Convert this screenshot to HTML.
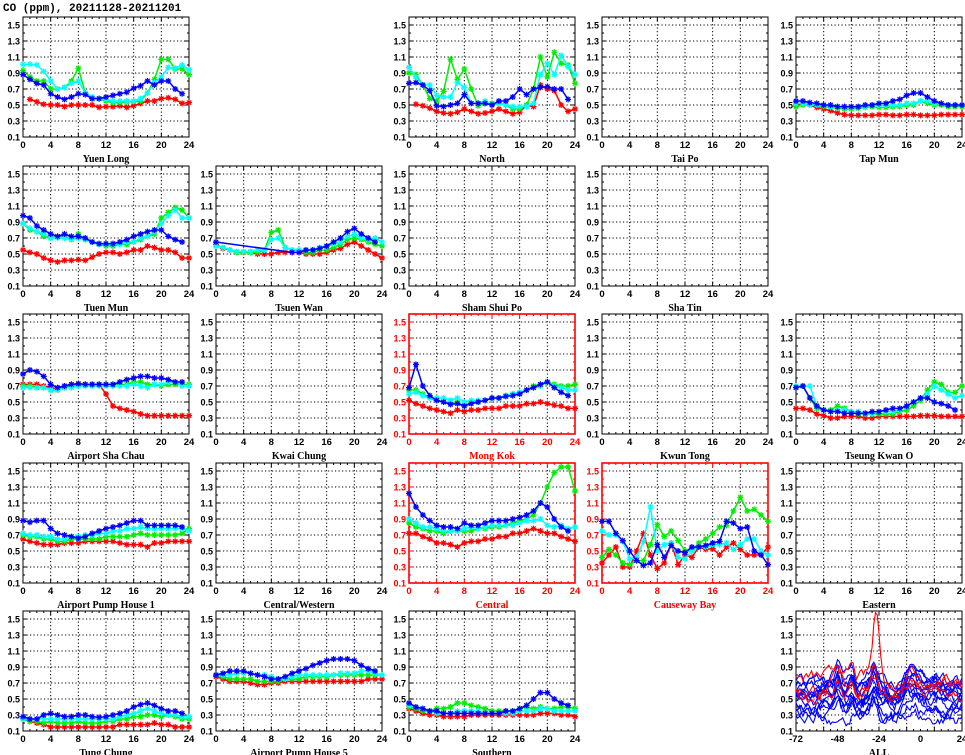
<!DOCTYPE html>
<html><head><meta charset="utf-8"><style>
html,body{margin:0;padding:0;background:#fff;}
svg{display:block;font-family:"Liberation Sans",sans-serif;}
</style></head><body>
<svg id="s" width="965" height="755" xmlns="http://www.w3.org/2000/svg">
<text x="3" y="11" font-size="11" font-family="Liberation Mono, monospace" font-weight="bold">CO (ppm), 20211128-20211201</text>
</svg>
<script>
const S=document.getElementById('s');
const NS='http://www.w3.org/2000/svg';
function el(t,a,txt){const e=document.createElementNS(NS,t);for(const k in a)e.setAttribute(k,a[k]);if(txt!==undefined)e.textContent=txt;S.appendChild(e);return e;}
const colL=[23,216,409,602,796], rowT=[17,166,314,463,611], W=166,H=120;
const C={r:'#ff0000',g:'#00ee00',c:'#00ffff',b:'#0000ff'};
const P=[
{n:'Yuen Long',c:0,r:0,d:{
r:[null,.57,.54,.51,.50,.50,.48,.50,.50,.50,.50,.47,.48,.48,.49,.47,.49,.52,.55,.55,.58,.59,.57,.52,.53],
g:[.93,.85,.80,.80,.70,.70,.72,.80,.96,.65,.58,.58,.55,.53,.53,.54,.54,.55,.65,.82,1.07,1.07,.95,.95,.88],
c:[1.01,1.01,1.0,.92,.80,.70,.72,.77,.80,.65,.60,.58,.57,.55,.55,.55,.55,.58,.65,.78,.85,.97,.96,1.0,.94],
b:[.88,.82,.77,.75,.64,.60,.57,.60,.64,.63,.58,.58,.60,.62,.64,.66,.71,.74,.80,.75,.80,.80,.70,.64,null]}},
{n:'North',c:2,r:0,d:{
r:[null,.51,.49,.46,.42,.40,.39,.41,.45,.42,.39,.40,.42,.45,.42,.39,.41,.50,.48,.75,.70,.68,.50,.42,.45],
g:[.90,.88,.75,.58,.55,.67,1.07,.82,.95,.70,.49,.52,.52,.53,.50,.45,.45,.50,.70,1.10,.85,1.16,1.02,1.0,.77],
c:[.97,.85,.75,.75,.62,.60,.60,.78,.72,.52,.52,.55,.50,.52,.50,.48,.48,.48,.52,.88,1.02,.88,1.12,.98,.88],
b:[.77,.78,.75,.68,.49,.48,.50,.52,.63,.52,.52,.52,.50,.55,.55,.60,.70,.63,.70,.72,.73,.70,.70,.57,null]}},
{n:'Tai Po',c:3,r:0,d:{}},
{n:'Tap Mun',c:4,r:0,d:{
r:[.50,.52,.50,.47,.45,.43,.40,.38,.37,.37,.37,.37,.38,.38,.37,.37,.38,.38,.37,.37,.37,.38,.38,.38,.38],
g:[.48,.50,.50,.50,.48,.47,.46,.45,.45,.46,.47,.48,.47,.47,.48,.48,.50,.50,.55,.52,.50,.50,.48,.48,.48],
c:[.52,.52,.50,.50,.50,.48,.48,.47,.47,.48,.48,.50,.50,.50,.50,.50,.52,.52,.55,.55,.52,.52,.50,.50,.50],
b:[.55,.55,.53,.52,.50,.50,.48,.48,.48,.48,.50,.50,.52,.52,.55,.57,.62,.65,.65,.60,.55,.52,.50,.50,.50]}},
{n:'Tuen Mun',c:0,r:1,d:{
r:[.55,.52,.50,.45,.42,.40,.42,.42,.43,.42,.46,.50,.52,.52,.50,.52,.55,.55,.60,.58,.55,.55,.52,.45,.45],
g:[.88,.80,.78,.72,.70,.72,.72,.68,.75,.68,.65,.62,.60,.60,.62,.62,.65,.68,.72,.75,.95,1.02,1.08,1.05,.95],
c:[.88,.82,.78,.75,.70,.70,.70,.68,.70,.68,.65,.62,.62,.62,.62,.65,.65,.70,.72,.78,.88,.98,1.05,.95,.95],
b:[.98,.95,.85,.80,.75,.72,.75,.72,.72,.70,.65,.63,.63,.63,.65,.68,.72,.75,.78,.80,.80,.72,.68,.65,null]}},
{n:'Tsuen Wan',c:1,r:1,d:{
r:[.62,.57,.55,.52,.52,.52,.50,.50,.50,.52,.52,.52,.52,.50,.50,.50,.52,.55,.57,.62,.65,.60,.55,.50,.45],
g:[.60,.58,.55,.52,.52,.52,.52,.55,.77,.80,.58,.55,.55,.52,.52,.55,.55,.58,.62,.68,.70,.68,.65,.62,.60],
c:[.60,.58,.55,.53,.53,.53,.55,.55,.68,.70,.58,.55,.55,.55,.55,.58,.60,.62,.65,.72,.75,.70,.68,.70,.65],
b:[.65,null,null,null,null,null,null,null,null,null,null,.52,.52,.55,.55,.57,.60,.65,.70,.78,.82,.75,.70,.65,null]}},
{n:'Sham Shui Po',c:2,r:1,d:{}},
{n:'Sha Tin',c:3,r:1,d:{}},
{n:'Airport Sha Chau',c:0,r:2,d:{
r:[.72,.72,.72,.70,.68,.65,.70,.72,.72,.72,.72,.72,.60,.45,.42,.40,.38,.35,.33,.33,.33,.33,.33,.33,.33],
g:[.70,.70,.68,.68,.65,.65,.68,.70,.70,.72,.72,.72,.72,.72,.72,.72,.75,.75,.72,.72,.70,.72,.72,.72,.72],
c:[.68,.68,.68,.68,.65,.65,.68,.68,.70,.70,.70,.70,.70,.70,.70,.70,.72,.70,.68,.72,.72,.75,.75,.70,.70],
b:[.85,.90,.88,.82,.72,.68,.70,.72,.73,.72,.72,.72,.72,.72,.75,.78,.80,.82,.82,.80,.80,.78,.75,.75,null]}},
{n:'Kwai Chung',c:1,r:2,d:{}},
{n:'Mong Kok',c:2,r:2,red:1,d:{
r:[.52,.48,.45,.42,.40,.38,.36,.40,.38,.40,.40,.42,.42,.42,.45,.45,.45,.48,.48,.50,.48,.46,.45,.42,.42],
g:[.65,.65,.60,.55,.52,.50,.48,.50,.45,.50,.50,.52,.55,.55,.58,.60,.62,.65,.70,.72,.75,.72,.70,.70,.72],
c:[.60,.62,.58,.55,.55,.55,.52,.55,.50,.52,.52,.52,.55,.55,.58,.60,.62,.65,.68,.70,.75,.70,.68,.65,.65],
b:[.68,.97,.70,.58,.52,.50,.47,.48,.45,.48,.50,.52,.55,.55,.57,.58,.60,.65,.68,.72,.75,.68,.62,.58,null]}},
{n:'Kwun Tong',c:3,r:2,d:{}},
{n:'Tseung Kwan O',c:4,r:2,d:{
r:[.42,.42,.40,.35,.33,.30,.30,.32,.32,.32,.30,.30,.32,.32,.32,.32,.32,.32,.33,.33,.33,.32,.32,.32,.32],
g:[.68,.70,.55,.42,.40,.40,.45,.42,.38,.35,.35,.35,.35,.35,.35,.38,.40,.45,.52,.65,.75,.72,.62,.62,.70],
c:[.70,.70,.70,.45,.40,.38,.40,.40,.38,.38,.35,.35,.38,.38,.38,.40,.45,.50,.55,.60,.70,.65,.60,.55,.58],
b:[.68,.70,.55,.45,.40,.38,.38,.36,.36,.36,.36,.38,.38,.40,.42,.42,.45,.50,.55,.55,.50,.48,.45,.40,null]}},
{n:'Airport Pump House 1',c:0,r:3,d:{
r:[.65,.62,.60,.58,.58,.58,.60,.60,.60,.62,.62,.62,.62,.62,.60,.58,.58,.58,.55,.60,.60,.62,.62,.62,.62],
g:[.70,.68,.68,.65,.65,.62,.62,.65,.65,.65,.65,.65,.68,.68,.68,.68,.70,.72,.70,.70,.70,.70,.70,.72,.78],
c:[.72,.70,.70,.68,.68,.65,.65,.68,.68,.70,.70,.72,.72,.75,.75,.78,.78,.80,.78,.78,.78,.78,.78,.78,.75],
b:[.88,.86,.88,.88,.78,.72,.70,.68,.66,.68,.72,.75,.78,.80,.82,.85,.88,.88,.82,.82,.82,.82,.82,.80,null]}},
{n:'Central/Western',c:1,r:3,d:{}},
{n:'Central',c:2,r:3,red:1,d:{
r:[.72,.72,.68,.65,.60,.60,.58,.55,.60,.62,.62,.65,.65,.68,.68,.72,.72,.75,.78,.75,.72,.72,.68,.65,.62],
g:[.85,.80,.78,.75,.75,.72,.75,.75,.75,.75,.78,.78,.80,.80,.82,.85,.88,.90,.95,1.10,1.30,1.48,1.55,1.55,1.25],
c:[.90,.85,.80,.80,.78,.75,.75,.75,.78,.80,.78,.80,.82,.82,.82,.82,.85,.88,.88,.90,.82,.80,.82,.78,.80],
b:[1.22,1.05,.95,.88,.82,.80,.80,.78,.85,.82,.82,.85,.88,.88,.88,.90,.92,.95,1.0,1.10,1.05,.90,.80,.75,null]}},
{n:'Causeway Bay',c:3,r:3,red:1,d:{
r:[.35,.45,.55,.30,.30,.50,.72,.45,.28,.35,.60,.33,.45,.42,.55,.52,.53,.45,.55,.60,.52,.45,.45,.45,.55],
g:[.42,.52,.45,.35,.33,.38,.38,.58,.83,.68,.75,.63,.50,.50,.60,.65,.72,.80,.82,1.0,1.17,1.0,1.02,.95,.87],
c:[.75,.70,.70,.62,.40,.42,.62,1.05,.50,.58,.60,.42,.40,.50,.55,.55,.58,.58,.60,.52,.58,.65,.65,.50,.45],
b:[.87,.87,.72,.63,.50,.38,.32,.35,.58,.42,.57,.50,.48,.55,.55,.57,.60,.62,.87,.85,.78,.80,.50,.45,.33]}},
{n:'Eastern',c:4,r:3,d:{}},
{n:'Tung Chung',c:0,r:4,d:{
r:[.25,.22,.20,.18,.15,.15,.15,.15,.15,.15,.15,.15,.15,.15,.18,.18,.18,.18,.18,.20,.18,.18,.15,.15,.15],
g:[.25,.22,.22,.20,.22,.20,.20,.20,.22,.20,.20,.20,.22,.22,.25,.25,.28,.28,.30,.30,.28,.30,.28,.25,.25],
c:[.25,.25,.25,.25,.25,.25,.25,.25,.25,.25,.25,.25,.25,.25,.28,.30,.32,.35,.38,.35,.32,.30,.30,.28,.28],
b:[.28,.25,.25,.30,.32,.30,.28,.28,.30,.30,.28,.27,.28,.30,.32,.35,.40,.43,.45,.42,.38,.35,.35,.32,null]}},
{n:'Airport Pump House 5',c:1,r:4,d:{
r:[.78,.75,.72,.72,.72,.70,.68,.68,.70,.70,.72,.72,.72,.72,.72,.72,.72,.72,.72,.72,.72,.72,.75,.75,.75],
g:[.80,.78,.75,.75,.75,.75,.72,.72,.72,.72,.75,.75,.75,.78,.78,.78,.78,.80,.80,.80,.80,.80,.80,.80,.80],
c:[.80,.80,.80,.82,.82,.82,.80,.80,.78,.75,.75,.78,.80,.80,.80,.80,.80,.80,.82,.82,.82,.85,.85,.82,.80],
b:[.80,.82,.85,.85,.85,.82,.80,.78,.75,.75,.78,.82,.85,.88,.92,.95,.98,1.0,1.0,1.0,.98,.92,.88,.85,null]}},
{n:'Southern',c:2,r:4,d:{
r:[.38,.35,.32,.30,.30,.28,.28,.28,.28,.30,.30,.30,.30,.30,.30,.30,.30,.30,.30,.32,.32,.32,.30,.30,.28],
g:[.40,.38,.35,.35,.38,.38,.40,.45,.45,.42,.40,.38,.35,.35,.35,.35,.38,.40,.38,.40,.38,.38,.40,.40,.38],
c:[.42,.40,.38,.35,.32,.32,.32,.35,.35,.35,.35,.32,.32,.32,.32,.32,.35,.35,.35,.38,.38,.35,.35,.35,.35],
b:[.45,.40,.38,.35,.35,.32,.32,.32,.32,.32,.32,.32,.32,.32,.35,.35,.38,.42,.50,.58,.58,.50,.45,.42,null]}},
{n:'ALL',c:4,r:4,all:1,d:{}}
];
function frame(L,T,red,xlab){
  const col=red?'#ff0000':'#000';
  for(let v=0.3;v<1.55;v+=0.2){const y=T+(1.6-v)/1.5*H;el('line',{x1:L,x2:L+W,y1:y,y2:y,stroke:'#000','stroke-width':1,'stroke-dasharray':'1.2,2.3'});}
  for(let i=1;i<6;i++){const x=L+i*W/6;el('line',{x1:x,x2:x,y1:T,y2:T+H,stroke:'#000','stroke-width':1,'stroke-dasharray':'1.2,2.3'});}
  for(let v=0.1;v<1.65;v+=0.1){const y=T+(1.6-v)/1.5*H;const k=Math.round(v*10)%2==1;const l=k?4:2;
    el('line',{x1:L,x2:L+l,y1:y,y2:y,stroke:col});el('line',{x1:L+W-l,x2:L+W,y1:y,y2:y,stroke:col});
    if(k)el('text',{x:L-3,y:y+3.5,'font-size':9,'font-weight':'bold','text-anchor':'end',fill:col},v.toFixed(1));}
  for(let i=0;i<=24;i++){const x=L+i*W/24;const l=i%4==0?4:2;
    el('line',{x1:x,x2:x,y1:T+H-l,y2:T+H,stroke:col});el('line',{x1:x,x2:x,y1:T,y2:T+l,stroke:col});}
  for(let i=0;i<7;i++){el('text',{x:L+i*W/6,y:T+H+11,'font-size':9.5,'font-weight':'bold','text-anchor':'middle',fill:col},xlab[i]);}
  el('rect',{x:L,y:T,width:W,height:H,fill:'none',stroke:col,'stroke-width':red?1.6:1});
}
function Y(T,v){return T+(1.6-v)/1.5*H;}
function star(x,y,c){const r=3;el('path',{d:`M${x-r},${y}H${x+r}M${x},${y-r}V${y+r}M${x-2.2},${y-2.2}L${x+2.2},${y+2.2}M${x-2.2},${y+2.2}L${x+2.2},${y-2.2}`,stroke:c,'stroke-width':1.2});}
let seed=7;function rnd(){seed=(seed*16807)%2147483647;return seed/2147483647;}
for(const p of P){
  const L=colL[p.c],T=rowT[p.r];
  const xl=p.all?['','','','','','','']:['0','4','8','12','16','20','24'];
  if(p.all){frame(L,T,0,xl);
    ['-72','-48','-24','0','24'].forEach((t,i)=>el('text',{x:L+i*W/4,y:T+H+11,'font-size':9.5,'font-weight':'bold','text-anchor':'middle'},t));
    const base=[.72,.68,.65,.62,.58,.55,.5,.45,.42,.38,.32,.25,.6,.52];
    const lines=[];
    base.forEach(b=>lines.push({c:'#0000ff',b:b}));
    [{b:.75,pk:1},{b:.62},{b:.55}].forEach(o=>lines.push({c:'#ff0000',b:o.b,pk:o.pk}));
    for(const ln of lines){let pts=[];let v=ln.b;
      for(let h=0;h<=96;h++){v+=(rnd()-.5)*.16;v+=(ln.b-v)*.2;
        let t=h-72;let bump=0.18*Math.exp(-((t+48)**2)/6)+0.22*Math.exp(-((t+27)**2)/8)+0.12*Math.exp(-((t+40)**2)/4)+0.15*Math.exp(-((t+6)**2)/30)-0.08*Math.exp(-((t+15)**2)/30);
        if(ln.pk)bump+=0.6*Math.exp(-((t+25)**2)/6);
        let val=Math.max(.12,Math.min(1.58,v+bump*(ln.b+0.4)));
        pts.push((L+h*W/96).toFixed(1)+','+Y(T,val).toFixed(1));}
      el('polyline',{points:pts.join(' '),fill:'none',stroke:ln.c,'stroke-width':1.1});}
  } else {
    frame(L,T,p.red,xl);
    for(const k of ['r','g','c','b']){const a=p.d[k];if(!a)continue;
      const pts=[];a.forEach((v,i)=>{if(v!=null)pts.push([L+i*W/24,Y(T,v)]);});
      el('polyline',{points:pts.map(q=>q[0].toFixed(1)+','+q[1].toFixed(1)).join(' '),fill:'none',stroke:C[k],'stroke-width':1.5});
      pts.forEach(q=>star(q[0],q[1],C[k]));}
  }
  el('text',{x:L+W/2,y:T+H+25,'font-size':10,'font-weight':'bold','text-anchor':'middle',fill:p.red?'#ff0000':'#000','font-family':'Liberation Serif, serif'},p.n);
}
</script>
</body></html>
